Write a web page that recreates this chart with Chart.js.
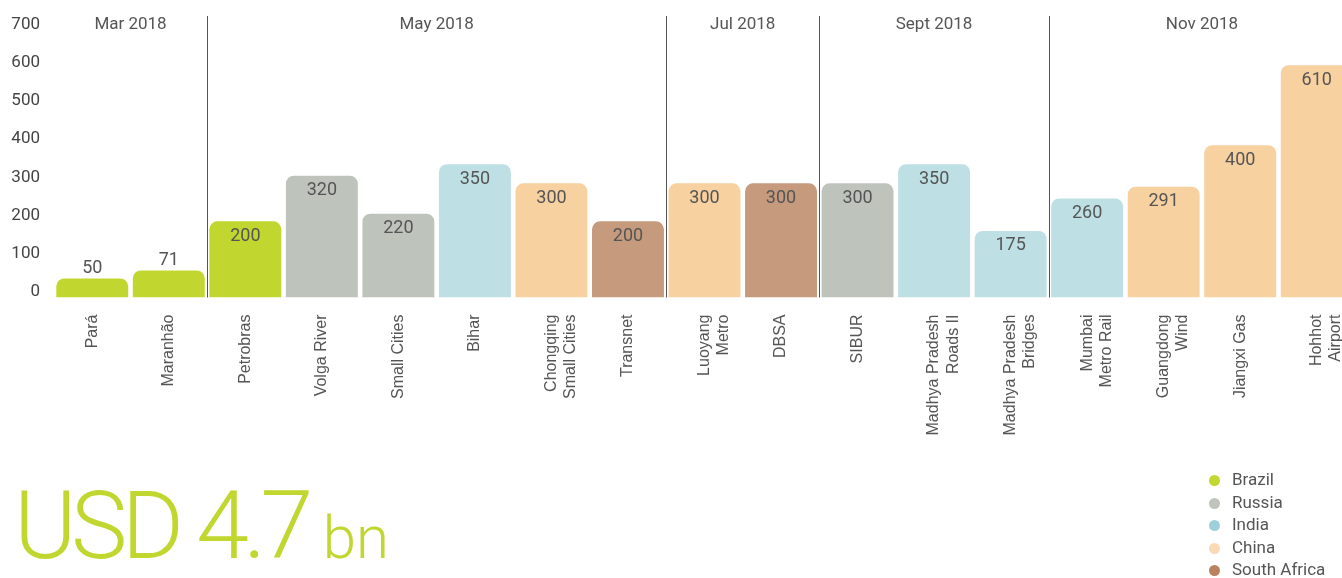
<!DOCTYPE html>
<html>
<head>
<meta charset="utf-8">
<script src="https://cdn.jsdelivr.net/npm/chart.js@4.4.1/dist/chart.umd.min.js"></script>
<style>
  html, body { margin: 0; padding: 0; background: #fff; overflow: hidden; }
  body { width: 1342px; height: 578px; position: relative; font-family: Roboto, sans-serif; }
  #dealChart { position: absolute; left: 0; top: 0; }
  #total { position: absolute; left: 14px; top: 470px; color: #c1d72f; font-weight: 300; white-space: nowrap; }
  #total .big { font-size: 95px; letter-spacing: -5.5px; }
  #total .small { font-size: 60px; margin-left: 15px; }
  #legend { position: absolute; left: 1209px; top: 468px; font-size: 17px; color: #555; }
  #legend div { height: 22.5px; line-height: 22.5px; white-space: nowrap; }
  #legend span { display: inline-block; width: 11px; height: 11px; border-radius: 50%; margin-right: 12px; vertical-align: -1px; }
</style>
</head>
<body>
<canvas id="dealChart" width="1362" height="578"></canvas>
<div id="total"><span class="big">USD 4.7</span><span class="small">bn</span></div>
<div id="legend"></div>
<script>
// deals, one bar each
var categories = [
  ["Pará"], ["Maranhão"], ["Petrobras"], ["Volga River"], ["Small Cities"], ["Bihar"],
  ["Chongqing", "Small Cities"], ["Transnet"], ["Luoyang", "Metro"], ["DBSA"], ["SIBUR"],
  ["Madhya Pradesh", "Roads II"], ["Madhya Pradesh", "Bridges"], ["Mumbai", "Metro Rail"],
  ["Guangdong", "Wind"], ["Jiangxi Gas"], ["Hohhot", "Airport"]
];
var values = [50, 71, 200, 320, 220, 350, 300, 200, 300, 300, 300, 350, 175, 260, 291, 400, 610];
var countries = ["Brazil", "Brazil", "Brazil", "Russia", "Russia", "India", "China", "South Africa",
  "China", "South Africa", "Russia", "India", "India", "India", "China", "China", "China"];

var countryNames = ["Brazil", "Russia", "India", "China", "South Africa"];
var barColors = ["#c1d72f", "#bec4bc", "#bee0e4", "#f8d1a0", "#c69a7c"];
var dotColors = ["#c2d82e", "#bfc4bc", "#9dd0da", "#fad9b5", "#b98360"];

// month groups: label + index of first deal in the group
var groupLabels = ["Mar 2018", "May 2018", "Jul 2018", "Sept 2018", "Nov 2018"];
var groupStarts = [0, 2, 8, 10, 13];

var yMax = 700;
var yStep = 100;

var colors = countries.map(function (c) {
  return barColors[countryNames.indexOf(c)];
});

// month headers and separator lines
var groupPlugin = {
  id: 'groups',
  afterDraw: function (chart) {
    var ctx = chart.ctx;
    var x = chart.scales.x;
    var area = chart.chartArea;
    var half = (x.getPixelForValue(1) - x.getPixelForValue(0)) / 2;
    ctx.save();
    ctx.font = '17px Roboto';
    ctx.fillStyle = '#555';
    ctx.textAlign = 'center';
    ctx.textBaseline = 'middle';
    for (var i = 0; i < groupStarts.length; i++) {
      var left = i === 0 ? area.left : x.getPixelForValue(groupStarts[i]) - half;
      var right = i === groupStarts.length - 1 ? area.right : x.getPixelForValue(groupStarts[i + 1]) - half;
      if (i > 0) {
        ctx.strokeStyle = '#555';
        ctx.lineWidth = 1;
        ctx.beginPath();
        ctx.moveTo(Math.round(left) + 0.5, 16);
        ctx.lineTo(Math.round(left) + 0.5, area.bottom);
        ctx.stroke();
      }
      ctx.fillText(groupLabels[i], (left + right) / 2, 25);
    }
    ctx.restore();
  }
};

// values on the bars
var valuePlugin = {
  id: 'values',
  afterDatasetsDraw: function (chart) {
    var ctx = chart.ctx;
    var meta = chart.getDatasetMeta(0);
    ctx.save();
    ctx.font = '18px Roboto';
    ctx.fillStyle = '#555';
    ctx.textAlign = 'center';
    ctx.textBaseline = 'middle';
    meta.data.forEach(function (bar, i) {
      var v = values[i];
      var y = v < 100 ? bar.y - 10 : bar.y + 15;
      ctx.fillText(String(v), bar.x, y);
    });
    ctx.restore();
  }
};

var ctx = document.getElementById('dealChart');
var dealChart = new Chart(ctx, {
  type: 'bar',
  data: {
    labels: categories,
    datasets: [{
      data: values,
      backgroundColor: colors,
      borderRadius: 8,
      borderSkipped: 'bottom',
      categoryPercentage: 1,
      barPercentage: 0.94
    }]
  },
  options: {
    responsive: false,
    animation: false,
    layout: { padding: { top: 31, right: 7, left: 0, bottom: 0 } },
    scales: {
      x: {
        grid: { display: false, drawTicks: false },
        border: { display: false },
        ticks: {
          autoSkip: false,
          minRotation: 90,
          maxRotation: 90,
          padding: 17,
          color: '#555',
          font: { family: 'Liberation Sans', size: 16 }
        },
        afterFit: function (scale) {
          scale.height = 280.5;
          scale.paddingLeft = 0;
          scale.paddingRight = 0;
        }
      },
      y: {
        min: 0,
        max: yMax,
        grid: { display: false, drawTicks: false },
        border: { display: false },
        ticks: {
          stepSize: yStep,
          padding: 14,
          labelOffset: -6,
          color: '#444',
          font: { family: 'Roboto', size: 17 }
        },
        afterFit: function (scale) { scale.width = 54; }
      }
    },
    plugins: {
      legend: { display: false },
      tooltip: { enabled: false }
    }
  },
  plugins: [groupPlugin, valuePlugin]
});

var legend = document.getElementById('legend');
countryNames.forEach(function (name, i) {
  var row = document.createElement('div');
  var dot = document.createElement('span');
  dot.style.background = dotColors[i];
  row.appendChild(dot);
  row.appendChild(document.createTextNode(name));
  legend.appendChild(row);
});
</script>
</body>
</html>
